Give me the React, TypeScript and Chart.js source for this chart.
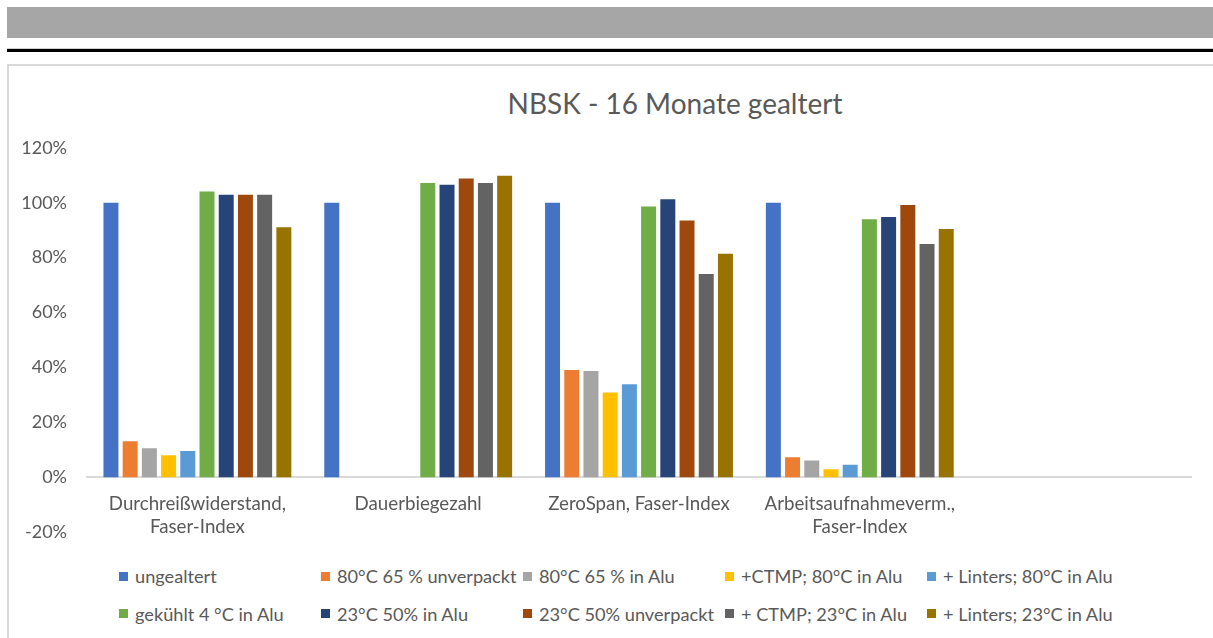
import React, { useEffect, useRef } from "react";
import { Chart, registerables } from "chart.js";

Chart.register(...registerables);

const TITLE = "NBSK - 16 Monate gealtert";

const categories: (string | string[])[] = [
  ["Durchreißwiderstand,", "Faser-Index"],
  "Dauerbiegezahl",
  "ZeroSpan, Faser-Index",
  ["Arbeitsaufnahmeverm.,", "Faser-Index"],
  "",
];

const seriesNames = [
  "ungealtert",
  "80°C 65 % unverpackt",
  "80°C 65 % in Alu",
  "+CTMP; 80°C in Alu",
  "+ Linters; 80°C in Alu",
  "gekühlt 4 °C in Alu",
  "23°C 50% in Alu",
  "23°C 50% unverpackt",
  "+ CTMP; 23°C in Alu",
  "+ Linters; 23°C in Alu",
];

const seriesColors = [
  "#4472C4",
  "#ED7D31",
  "#A5A5A5",
  "#FFC000",
  "#5B9BD5",
  "#70AD47",
  "#264478",
  "#9E480E",
  "#636363",
  "#997300",
];

const ungealtert = [100, 100, 100, 100, null];
const unverpackt80 = [13.1, null, 39.1, 7.3, null];
const alu80 = [10.6, null, 38.7, 6.1, null];
const ctmp80 = [8.0, null, 30.9, 2.9, null];
const linters80 = [9.6, null, 33.9, 4.6, null];
const gekuehlt4 = [104.1, 107.2, 98.6, 94.0, null];
const alu23 = [102.9, 106.5, 101.3, 94.8, null];
const unverpackt23 = [102.9, 108.8, 93.5, 99.2, null];
const ctmp23 = [102.9, 107.2, 74.0, 85.0, null];
const linters23 = [91.1, 109.8, 81.4, 90.4, null];

const seriesValues = [
  ungealtert,
  unverpackt80,
  alu80,
  ctmp80,
  linters80,
  gekuehlt4,
  alu23,
  unverpackt23,
  ctmp23,
  linters23,
];

const yMin = -20;
const yMax = 120;
const yStep = 20;

const FONT = "Lato, 'Open Sans', sans-serif";
const TEXT = "#595959";

export default function App() {
  const canvasRef = useRef<HTMLCanvasElement | null>(null);

  useEffect(() => {
    if (!canvasRef.current) return;
    const chart = new Chart(canvasRef.current, {
      type: "bar",
      data: {
        labels: categories,
        datasets: seriesNames.map((name, i) => ({
          label: name,
          data: seriesValues[i],
          backgroundColor: seriesColors[i],
          borderWidth: 0,
          categoryPercentage: 0.87,
          barPercentage: 0.78,
        })),
      },
      options: {
        animation: false,
        responsive: false,
        maintainAspectRatio: false,
        layout: { padding: { top: 0, bottom: 0, left: 0, right: 22 } },
        plugins: {
          legend: { display: false },
          title: { display: false },
          tooltip: { enabled: false },
        },
        scales: {
          x: {
            position: { y: 0 } as any,
            grid: { display: false, drawTicks: false },
            border: { display: true, color: "#d9d9d9", width: 2 },
            ticks: {
              color: TEXT,
              font: { family: FONT, size: 18.7, lineHeight: 1.23 },
              padding: 15,
              maxRotation: 0,
              autoSkip: false,
            },
          },
          y: {
            min: yMin,
            max: yMax,
            grid: { display: false, drawTicks: false },
            border: { display: false },
            ticks: {
              stepSize: yStep,
              color: TEXT,
              font: { family: FONT, size: 18 },
              padding: 20,
              callback: (v: any) => `${Math.round(Number(v))}%`,
            },
            afterFit: (scale: any) => {
              scale.width = 78;
            },
          },
        },
      },
    });
    return () => chart.destroy();
  }, []);

  const colStart = 119;
  const colWidth = 202;
  const rowCenters = [576, 613.5];

  return (
    <div
      style={{
        position: "absolute",
        left: 0,
        top: 0,
        width: 1213,
        height: 638,
        overflow: "hidden",
        background: "#ffffff",
        fontFamily: FONT,
      }}
    >
      <div
        style={{
          position: "absolute",
          left: 7,
          top: 7,
          width: 1206,
          height: 31,
          background: "#a6a6a6",
        }}
      />
      <div
        style={{
          position: "absolute",
          left: 7,
          top: 48,
          width: 1206,
          height: 1,
          background: "#d0d0d0",
        }}
      />
      <div
        style={{
          position: "absolute",
          left: 7,
          top: 49,
          width: 1206,
          height: 3,
          background: "#000000",
        }}
      />
      <div
        style={{
          position: "absolute",
          left: 7,
          top: 64,
          width: 1400,
          height: 700,
          borderLeft: "2px solid #d9d9d9",
          borderTop: "2px solid #d9d9d9",
          boxSizing: "border-box",
        }}
      />
      <div
        style={{
          position: "absolute",
          left: 375,
          width: 600,
          top: 87,
          height: 32,
          lineHeight: "32px",
          textAlign: "center",
          fontSize: 28,
          color: TEXT,
          whiteSpace: "nowrap",
        }}
      >
        {TITLE}
      </div>
      <canvas
        ref={canvasRef}
        width={1204}
        height={446}
        style={{
          position: "absolute",
          left: 9,
          top: 117,
          width: 1204,
          height: 446,
        }}
      />
      {seriesNames.map((name, i) => {
        const row = Math.floor(i / 5);
        const col = i % 5;
        return (
          <div
            key={name}
            style={{
              position: "absolute",
              left: colStart + col * colWidth,
              top: rowCenters[row] - 12,
              height: 24,
              display: "flex",
              alignItems: "center",
              whiteSpace: "nowrap",
              fontSize: 18.2,
              color: TEXT,
            }}
          >
            <span
              style={{
                display: "inline-block",
                width: 9,
                height: 9,
                background: seriesColors[i],
                marginRight: 7,
              }}
            />
            <span>{name}</span>
          </div>
        );
      })}
    </div>
  );
}
